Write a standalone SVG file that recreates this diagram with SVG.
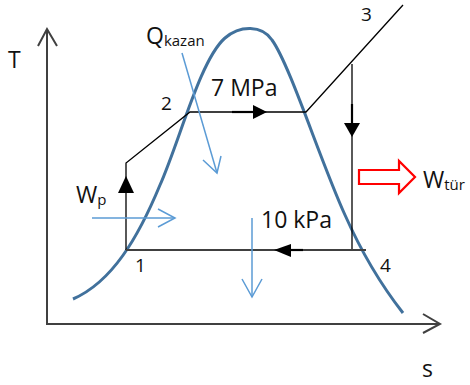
<svg xmlns="http://www.w3.org/2000/svg" width="470" height="385" viewBox="0 0 470 385">
<style>
text{font-family:"Open Sans","Liberation Sans",sans-serif;fill:#111}
.lbl{font-size:23px}
.num{font-size:19px}
.sub{font-size:15px}
.axis{stroke:#404040;stroke-width:2;fill:none}
.cyc{stroke:#000;stroke-width:1.3;fill:none}
.heat{stroke:#5B9BD5;stroke-width:1.5;fill:none}
.tri{fill:#000;stroke:none}
</style>
<rect width="470" height="385" fill="#fff"/>
<g id="axes">
<polyline class="axis" points="47,29 47,324 440,324"/>
<polyline class="axis" points="38,46 47,29 57,46" stroke-width="1.5"/>
<polyline class="axis" points="423,314 440,324 423,333" stroke-width="1.5"/>
<text class="lbl" x="8" y="68">T</text>
<text class="lbl" x="422" y="377" font-size="22">s</text>
</g>
<g id="dome">
<path d="M73,299 C112,282 138,238 160,185 C180,140 200,60 225,38 C240,25 262,25 272,40 C290,65 320,160 345,215 C365,260 385,290 403,313" fill="none" stroke="#41719C" stroke-width="3"/>
</g>
<g id="connectors">
<polyline class="cyc" points="126,250 126,163 190,112 306,112 403,5"/>
<line class="cyc" x1="352" y1="64" x2="352" y2="250"/>
<line x1="126" y1="250" x2="366" y2="250" stroke="#404040" stroke-width="2"/>
<polygon class="tri" points="126,176 118,193 134,193"/>
<line x1="232" y1="112" x2="254" y2="112" stroke="#000" stroke-width="2.2"/>
<polygon class="tri" points="267,112 253,105 253,119"/>
<line x1="352" y1="104" x2="352" y2="124" stroke="#000" stroke-width="2.2"/>
<polygon class="tri" points="352,137 344,123 360,123"/>
<line x1="290" y1="250" x2="303" y2="250" stroke="#000" stroke-width="2.2"/>
<polygon class="tri" points="274,250 291,244 291,257"/>
</g>
<g id="heat-in">
<line class="heat" x1="182" y1="53" x2="217" y2="173"/>
<polyline class="heat" points="203,160 217,173 221,156"/>
</g>
<g id="pump-work">
<line class="heat" x1="92" y1="218" x2="175" y2="218"/>
<polyline class="heat" points="158,209 175,218 158,227"/>
</g>
<g id="heat-out">
<line class="heat" x1="252" y1="218" x2="252" y2="297"/>
<polyline class="heat" points="242,279 252,297 262,279"/>
</g>
<g id="turbine-work">
<polygon points="359,170 399,170 399,161 415,177 399,193 399,184 359,184" fill="#fff" stroke="#FF0000" stroke-width="2.2"/>
</g>
<g id="labels">
<text class="lbl" x="146" y="44">Q<tspan class="sub" dy="2">kazan</tspan></text>
<text class="num" x="161" y="110">2</text>
<text class="lbl" x="211" y="96">7 MPa</text>
<text class="num" x="361" y="21">3</text>
<text class="lbl" x="76" y="203" font-size="24">W<tspan class="sub" dy="2">p</tspan></text>
<text class="num" x="135" y="272">1</text>
<text class="lbl" x="261" y="228">10 kPa</text>
<text class="num" x="380" y="272">4</text>
<text class="lbl" x="423" y="188">W<tspan class="sub" dy="2">tür</tspan></text>
</g>
</svg>
